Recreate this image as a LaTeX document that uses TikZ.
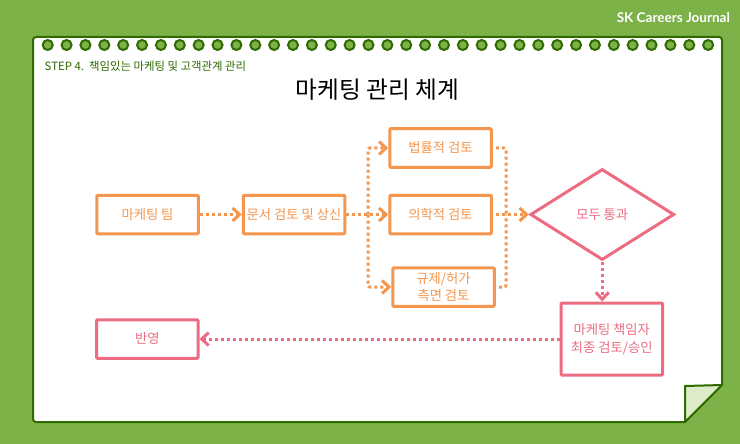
\documentclass[tikz,border=0pt]{standalone}
\usepackage{fontspec}
\setmainfont{Noto Sans CJK KR}
\newfontfamily\brandfont{Lato}
\usepackage{xcolor}
\usetikzlibrary{arrows.meta, positioning, shapes.geometric}
\definecolor{CareerGreen}{HTML}{7DB249}
\definecolor{CareerDark}{HTML}{2F6B00}
\definecolor{CareerFold}{HTML}{DCEBC8}
\definecolor{FlowOrange}{HTML}{F4964E}
\definecolor{FlowPink}{HTML}{EE6C82}

\begin{document}
\begin{tikzpicture}[
    x=1pt, y=-1pt,
    node distance=42pt and 42pt,
    paper/.style={draw=CareerDark, line width=2pt, fill=white, line join=round},
    ring/.style={circle, draw=CareerDark, line width=2pt, fill=CareerGreen, minimum size=10pt, inner sep=0pt},
    obox/.style={
        rectangle, rounded corners=1pt, draw=FlowOrange, line width=3pt,
        fill=white, minimum width=101.5pt, minimum height=38.5pt, inner sep=0pt,
        align=center, text=FlowOrange, font=\fontsize{13.3}{17.5}\selectfont
    },
    pbox/.style={
        rectangle, rounded corners=1pt, draw=FlowPink, line width=3pt,
        fill=white, minimum width=101.5pt, minimum height=38.5pt, inner sep=0pt,
        align=center, text=FlowPink, font=\fontsize{13.3}{17.5}\selectfont
    },
    decide/.style={
        diamond, draw=FlowPink, line width=3pt, fill=white, aspect=1.58,
        minimum width=144pt, minimum height=91pt, inner sep=0pt,
        text=FlowPink, font=\fontsize{13.3}{17.5}\selectfont
    },
    oarr/.style={-{Straight Barb[length=7pt, width=13pt, line width=3pt]}, line width=3pt,
        dash pattern=on 3pt off 3pt, color=FlowOrange, rounded corners=2pt},
    oline/.style={line width=3pt, dash pattern=on 3pt off 3pt, color=FlowOrange, rounded corners=2pt},
    parr/.style={-{Straight Barb[length=7pt, width=13pt, line width=3pt]}, line width=3pt,
        dash pattern=on 3pt off 3pt, color=FlowPink}
]
\useasboundingbox (0,0) rectangle (740,444);
\fill[CareerGreen] (0,0) rectangle (740,444);

\draw[paper] (685,422) [rounded corners=3pt] -- (33,422) -- (33,37) -- (722,37)
    [rounded corners=0pt] -- (722,385) -- cycle;
\draw[paper, fill=CareerFold] (685,422) -- (685,386) -- (722,385) -- cycle;

\foreach \i in {0,...,35}
    \node[ring] (ring\i) at ({47.7+18.87*\i},45) {};

\node[anchor=west, text=CareerDark, font=\fontsize{11.4}{13}\selectfont, inner sep=0pt] (step) at (44.5,66.5)
    {STEP 4.\ \ 책임있는 마케팅 및 고객관계 관리};
\node[font=\fontsize{23.7}{28}\selectfont, inner sep=0pt] (title) at (377.5,90) {마케팅 관리 체계};
\node[anchor=east, text=white, font=\brandfont\bfseries\fontsize{13.5}{16}\selectfont, inner sep=0pt] (brand) at (730,18)
    {SK Careers Journal};

\node[obox] (team) at (147.5,214.5) {마케팅 팀};
\node[obox, right=of team] (docs) {문서 검토 및 상신};
\node[obox, right=of docs] (med) {의학적 검토};
\node[obox, above=25pt of med] (law) {법률적 검토};
\node[obox, below=31pt of med, xshift=3pt] (reg) {규제/허가\\측면 검토};
\node[decide, right=36pt of med] (pass) {모두 통과};
\node[pbox, minimum height=72pt, below=40pt of pass, xshift=9.5pt] (final) {마케팅 책임자\\최종 검토/승인};
\node[pbox, left=360pt of final] (apply) {반영};

\coordinate (split) at (368,214.5);
\coordinate (merge) at (506,214.5);

\draw[oarr] (team) -- (docs);
\draw[oarr] (docs) -- (med);
\draw[oarr] (split) |- (law);
\draw[oarr] (split) |- (reg);
\draw[oline] ([xshift=3pt]law.east) -| (merge);
\draw[oline] ([xshift=3pt]reg.east) -| (merge);
\draw[oarr] ([xshift=3pt]med.east) -- (pass);
\draw[parr] (pass.south) -- (pass.south |- final.north);
\draw[parr] (final) -- (apply);

\end{tikzpicture}
\end{document}
